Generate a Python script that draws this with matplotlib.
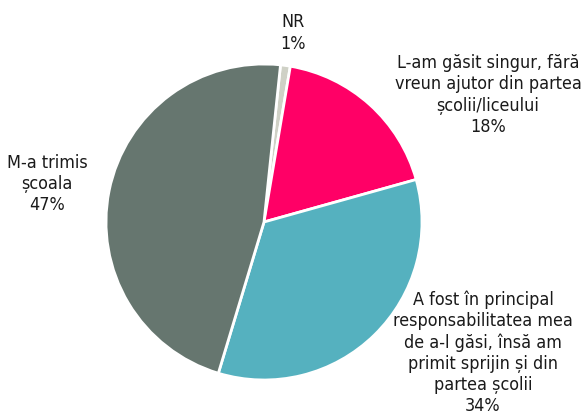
import matplotlib
matplotlib.use("Agg")
import matplotlib.pyplot as plt

categories = ["NR",
              "L-am găsit singur, fără\nvreun ajutor din partea\nșcolii/liceului",
              "A fost în principal\nresponsabilitatea mea\nde a-l găsi, însă am\nprimit sprijin și din\npartea școlii",
              "M-a trimis\nșcoala"]
values = [1, 18, 34, 47]
colors = ["#CFD1C6", "#FF0066", "#55B1BF", "#66766F"]
label_pos = [(0.184, 1.196), (1.418, 0.804), (1.386, -0.829), (-1.373, 0.241)]

W, H = 582, 416
fig = plt.figure(figsize=(W / 100, H / 100), dpi=100)
cx, cy, r = 264, 222, 158
ax = fig.add_axes([(cx - r) / W, (H - cy - r) / H, 2 * r / W, 2 * r / H])
ax.pie(values, colors=colors, startangle=84, counterclock=False,
       wedgeprops=dict(edgecolor="white", linewidth=2), radius=1)
ax.set_xlim(-1, 1)
ax.set_ylim(-1, 1)
ax.set_aspect("equal")
ax.axis("off")

for cat, v, (x, y) in zip(categories, values, label_pos):
    ax.text(x, y, f"{cat}\n{v}%", ha="center", va="center", fontsize=12.9,
            family="DejaVu Sans", fontstretch="condensed", color="#1a1a1a",
            linespacing=1.22, clip_on=False)

fig.savefig("out.png", dpi=100)
